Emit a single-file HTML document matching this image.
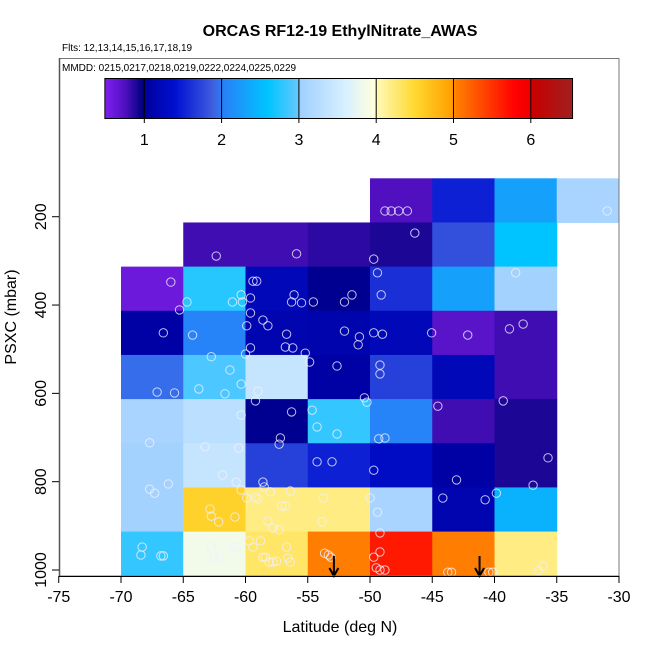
<!DOCTYPE html>
<html><head><meta charset="utf-8"><style>
html,body{margin:0;padding:0;background:#fff}
svg{display:block;font-family:"Liberation Sans",Arial,sans-serif}
</style></head><body>
<svg id="chart" width="650" height="650" viewBox="0 0 650 650" xmlns="http://www.w3.org/2000/svg">
<text x="340" y="36" text-anchor="middle" font-size="16" font-weight="bold">ORCAS RF12-19 EthylNitrate_AWAS</text>
<text x="62" y="51" font-size="10">Flts: 12,13,14,15,16,17,18,19</text>
<text x="62" y="71" font-size="10">MMDD: 0215,0217,0218,0219,0222,0224,0225,0229</text>
<g id="cells"></g>
<g id="pts"></g>
<g id="cbar"></g>
<g id="axes"></g>
<text x="340" y="632" text-anchor="middle" font-size="16">Latitude (deg N)</text>
<text transform="translate(16,317) rotate(-90)" text-anchor="middle" font-size="16">PSXC (mbar)</text>
</svg>
<script>
const latLefts = [-70,-65,-60,-55,-50,-45,-40,-35];
const presTops = [113,213,313,413,513,613,713,813,913];
const values = [
 [null,null,null,null,0.75,1.5,2.3,3.1],
 [null,0.8,0.8,0.85,0.9,1.8,2.6,null],
 [0.6,2.75,1.2,1.0,1.6,2.3,3.05,null],
 [1.05,2.05,1.15,1.12,1.2,0.7,0.8,null],
 [1.95,2.9,3.4,1.05,1.7,1.2,0.8,null],
 [3.1,3.3,1.0,2.8,2.05,0.8,0.9,null],
 [3.05,3.4,1.7,1.5,1.3,1.05,0.9,null],
 [3.05,4.55,4.2,4.2,3.1,1.15,2.45,null],
 [2.8,3.85,4.3,5.05,5.65,5.05,4.2,null]
];
const points = [
[-48.8,187],[-48.3,187],[-47.7,187],[-47.0,187],[-30.95,187],
[-46.4,237],[-62.35,289],[-55.9,284],[-49.7,296],
[-66.0,348],[-49.4,327],[-38.3,327],[-59.4,346],[-59.1,346],
[-60.35,377],[-59.6,384],[-56.1,377],[-51.45,377],[-49.1,377],
[-64.7,393],[-61.05,393],[-60.25,393],[-56.3,393],[-55.5,395],[-54.55,393],[-52.05,393],
[-65.3,411],[-59.6,418],[-58.6,434],[-58.2,447],[-59.9,447],
[-66.6,463],[-64.25,468],[-56.7,466],[-52.05,459],[-50.85,472],[-50.95,490],[-49.7,463],[-49.0,466],[-45.05,463],[-42.15,468],[-38.8,454],[-37.7,443],
[-59.6,497],[-60.0,511],[-56.8,495],[-56.2,497],[-55.2,509],[-54.85,529],[-62.75,517],[-61.25,547],[-52.65,538],[-49.2,536],[-49.2,556],[-67.1,597],[-65.7,599],[-63.75,590],[-61.65,601],[-60.35,579],[-59.0,595],
[-59.2,617],[-56.3,642],[-54.65,638],[-50.45,610],[-50.25,620],[-44.55,629],[-39.3,617],
[-60.35,649],[-54.25,676],[-52.65,692],[-67.7,712],[-57.2,701],[-57.3,715],[-49.3,703],[-48.8,701],
[-63.25,721],[-60.55,724],[-54.25,755],[-53.05,755],[-49.7,774],[-35.7,746],
[-61.85,785],[-60.75,801],[-58.6,801],[-58.5,812],[-58.0,823],[-56.4,821],[-43.05,796],[-67.7,817],[-67.3,826],[-66.2,805],[-36.9,808],
[-60.35,819],[-59.9,837],[-59.2,835],[-59.0,839],[-53.75,837],[-50.0,837],[-44.15,837],[-40.75,841],[-39.85,826],
[-62.85,862],[-62.75,878],[-62.15,891],[-60.85,880],[-57.1,855],[-56.8,855],[-58.2,889],[-57.8,905],[-57.3,909],[-53.85,891],[-49.4,869],
[-49.2,916],[-68.3,948],[-68.4,966],[-66.8,968],[-66.6,968],[-62.75,948],[-62.55,971],[-62.15,973],[-61.05,948],[-60.75,948],[-59.7,934],[-59.4,948],[-58.8,934],[-56.7,948],[-58.6,971],[-58.4,971],[-58.1,982],[-57.8,982],[-57.5,980],[-56.6,973],[-56.4,982],
[-53.65,962],[-53.35,966],[-53.15,971],[-49.7,971],[-49.2,959],[-49.5,995],[-49.2,1000],[-48.8,1000],[-43.75,1005],[-43.45,1005],[-40.45,1005],[-40.15,1005],[-36.5,1002],[-36.1,991]
];
const arrowLats = [-52.9,-41.2];
const xTicks = [-75,-70,-65,-60,-55,-50,-45,-40,-35,-30];
const yTicks = [200,400,600,800,1000];
const cbTicks = [1,2,3,4,5,6];
const cmapVals = [0.49,0.75,0.98,1.02,1.4,1.9,2.02,2.6,2.98,3.02,3.6,3.97,4.03,4.5,4.97,5.03,5.8,5.97,6.03,6.54];
const cmapCols = ['#8020f0','#5010c0','#000080','#0000a0','#0010d0','#4060e0','#2880f8','#00c4ff','#60c8ff','#a0d0ff','#d8f0ff','#ffffe0','#fff8b0','#ffd830','#ffa000','#ff8000','#ff0000','#f00000','#c80000','#a02020'];

const NS='http://www.w3.org/2000/svg';
const X = lon => 58.75 + (lon+75)*12.45;
const Y = p => 570 - (1000-p)*0.4416;
const CB = v => 144.3 + (v-1)*77.3;
function hex(c){return [1,3,5].map(i=>parseInt(c.substr(i,2),16));}
function cmap(v){
  if(v<=cmapVals[0]) return cmapCols[0];
  for(let i=1;i<cmapVals.length;i++){
    if(v<=cmapVals[i]){
      const t=(v-cmapVals[i-1])/(cmapVals[i]-cmapVals[i-1]);
      const a=hex(cmapCols[i-1]),b=hex(cmapCols[i]);
      return 'rgb('+a.map((x,k)=>Math.round(x+(b[k]-x)*t)).join(',')+')';
    }
  }
  return cmapCols[cmapCols.length-1];
}
function mk(tag,attrs,parent){const e=document.createElementNS(NS,tag);for(const k in attrs)e.setAttribute(k,attrs[k]);parent.appendChild(e);return e;}

const cells=document.getElementById('cells');
values.forEach((row,r)=>row.forEach((v,c)=>{
  if(v===null) return;
  const x0=X(latLefts[c]),x1=X(latLefts[c]+5),y0=Y(presTops[r]),y1=Y(presTops[r]+100);
  const e=mk('rect',{x:x0,y:y0,width:x1-x0+0.5,height:y1-y0+0.5,fill:cmap(v)},cells);
  
  
}));

const pts=document.getElementById('pts');
points.forEach(p=>{
  const e=mk('circle',{cx:X(p[0]),cy:Y(p[1]),r:4.2,fill:'none',stroke:'rgba(240,240,255,0.8)','stroke-width':1},pts);
  
  
});

arrowLats.forEach(l=>{
  const g=mk('g',{},pts);
  
  
  const x=X(l);
  mk('line',{x1:x,y1:556,x2:x,y2:575,stroke:'#000','stroke-width':2},g);
  mk('polyline',{points:(x-4.5)+',568 '+x+',576 '+(x+4.5)+',568',fill:'none',stroke:'#000','stroke-width':2},g);
});

const cb=document.getElementById('cbar');
const N=240;
for(let i=0;i<N;i++){
  const v0=0.49+(6.54-0.49)*i/N, v1=0.49+(6.54-0.49)*(i+1)/N;
  mk('rect',{x:CB(v0),y:78.5,width:CB(v1)-CB(v0)+0.4,height:40,fill:cmap((v0+v1)/2)},cb);
}
mk('rect',{x:CB(0.49),y:78.5,width:CB(6.54)-CB(0.49),height:40,fill:'none',stroke:'#000','stroke-width':1},cb);
cbTicks.forEach(t=>{
  mk('line',{x1:CB(t),y1:78.5,x2:CB(t),y2:123,stroke:'#000','stroke-width':1},cb);
  const e=mk('text',{x:CB(t),y:145,'text-anchor':'middle','font-size':16},cb);
  e.textContent=t;
  
  
});

const ax=document.getElementById('axes');
mk('rect',{x:59.5,y:58.5,width:559.5,height:517.5,fill:'none',stroke:'#777','stroke-width':1},ax);
mk('line',{x1:59.5,y1:58,x2:59.5,y2:576,stroke:'#555','stroke-width':1.5},ax);
mk('line',{x1:59,y1:576.5,x2:619,y2:576.5,stroke:'#000','stroke-width':1},ax);
xTicks.forEach(t=>{
  mk('line',{x1:X(t),y1:576,x2:X(t),y2:583,stroke:'#000','stroke-width':1},ax);
  const e=mk('text',{x:X(t),y:602,'text-anchor':'middle','font-size':16},ax);
  e.textContent=t;
  
  
});
yTicks.forEach(t=>{
  mk('line',{x1:52,y1:Y(t),x2:59,y2:Y(t),stroke:'#000','stroke-width':1},ax);
  const e=mk('text',{transform:'translate(46,'+Y(t)+') rotate(-90)','text-anchor':'middle','font-size':16},ax);
  e.textContent=t;
  
  
});
</script>
</body></html>
